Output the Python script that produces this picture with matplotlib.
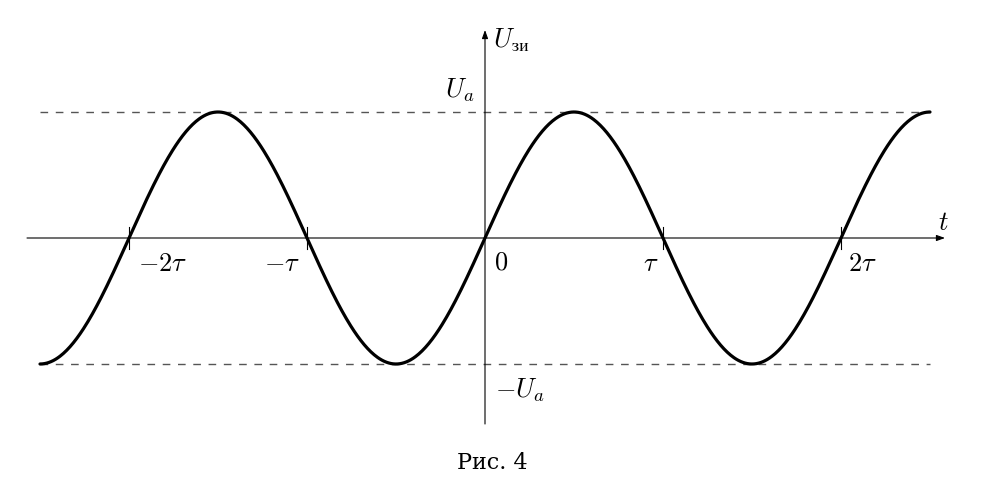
import numpy as np
import matplotlib
matplotlib.use("Agg")
import matplotlib.pyplot as plt

plt.rcParams['mathtext.fontset'] = 'cm'
plt.rcParams['font.family'] = ['DejaVu Serif']

# signal: U = Ua * sin(pi t / tau), t in units of tau, U in units of Ua
amp = 1.0
tau = 1.0
t_start, t_end = -2.5, 2.5

tick_pos = [-2, -1, 1, 2]
tick_labels = [r'$-2\tau$', r'$-\tau$', r'$\tau$', r'$2\tau$']
tick_label_dx = [0.19, -0.14, -0.07, 0.12]

t = np.linspace(t_start, t_end, 800)
u = amp * np.sin(np.pi * t / tau)

fig = plt.figure(figsize=(9.88, 4.95), dpi=100)
ax = fig.add_axes([0, 0, 1, 1])
ax.set_xlim(-485 / 178, 503 / 178)
ax.set_ylim(-257 / 126, 238 / 126)
ax.axis('off')

# dashed levels
ax.plot([t_start, t_end], [amp, amp], ls=(0, (5.5, 5.5)), color='#555555', lw=1.0)
ax.plot([t_start, t_end], [-amp, -amp], ls=(0, (5.5, 5.5)), color='#555555', lw=1.0)

# axes with arrows
arr = dict(arrowstyle='-|>,head_length=0.5,head_width=0.18', color='black',
           lw=0.8, shrinkA=0, shrinkB=0)
ax.annotate('', xy=(460 / 178, 0), xytext=(-458 / 178, 0), arrowprops=arr)
ax.annotate('', xy=(0, 208 / 126), xytext=(0, -186 / 126), arrowprops=arr)

# ticks
for p in tick_pos:
    ax.plot([p, p], [-0.085, 0.085], color='black', lw=0.8)

ax.plot(t, u, color='black', lw=2.3, solid_capstyle='round')

fs = 19
for p, lab, dx in zip(tick_pos, tick_labels, tick_label_dx):
    ax.text(p + dx, -0.2, lab, fontsize=fs, ha='center', va='center')
ax.text(0.09, -0.19, r'$0$', fontsize=fs, ha='center', va='center')
ax.text(458 / 178, 16 / 126, r'$t$', fontsize=fs, ha='center', va='center')
ax.text(8 / 178, 198 / 126, r'$U_{\mathrm{зи}}$', fontsize=fs, ha='left', va='center')
ax.text(-11 / 178, 148 / 126, r'$U_a$', fontsize=fs, ha='right', va='center')
ax.text(10 / 178, -152 / 126, r'$-U_a$', fontsize=fs, ha='left', va='center')

fig.text(492 / 988, 1 - 463 / 495, 'Рис. 4', fontsize=16, ha='center', va='center')

fig.savefig('out.png', dpi=100)
